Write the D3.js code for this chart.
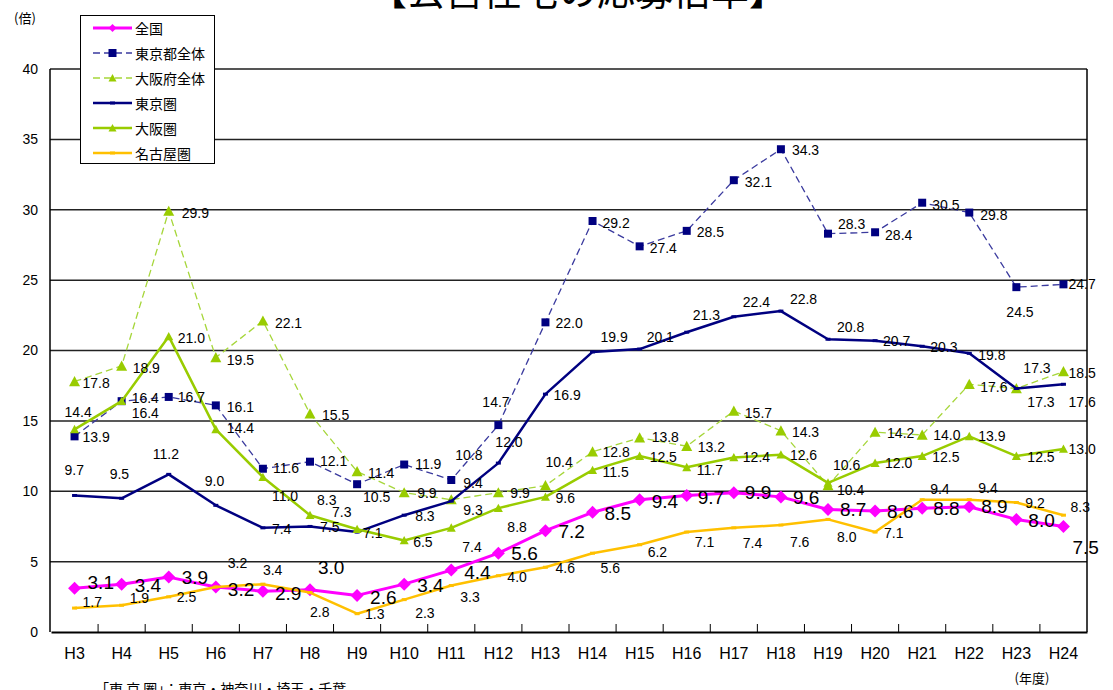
<!DOCTYPE html>
<html>
<head>
<meta charset="utf-8">
<script src="https://cdn.jsdelivr.net/npm/d3@7"></script>
<style>
  body { margin: 0; background: #fff; }
  svg { display: block; }
  text { font-family: "Liberation Sans", Arial, sans-serif; }
  .jp { font-family: "Noto Sans CJK JP", sans-serif; }
</style>
</head>
<body>
<svg id="chart" width="1113" height="690"></svg>
<script>
// ---------- data ----------
const categories = ["H3","H4","H5","H6","H7","H8","H9","H10","H11","H12","H13","H14","H15","H16","H17","H18","H19","H20","H21","H22","H23","H24"];
const yTicks = [0,5,10,15,20,25,30,35,40];
const seriesNames = ["全国","東京都全体","大阪府全体","東京圏","大阪圏","名古屋圏"];
const zenkoku   = [3.1,3.4,3.9,3.2,2.9,3.0,2.6,3.4,4.4,5.6,7.2,8.5,9.4,9.7,9.9,9.6,8.7,8.6,8.8,8.9,8.0,7.5];
const tokyoto   = [13.9,16.4,16.7,16.1,11.6,12.1,10.5,11.9,10.8,14.7,22.0,29.2,27.4,28.5,32.1,34.3,28.3,28.4,30.5,29.8,24.5,24.7];
const osakafu   = [17.8,18.9,29.9,19.5,22.1,15.5,11.4,9.9,9.4,9.9,10.4,12.8,13.8,13.2,15.7,14.3,10.4,14.2,14.0,17.6,17.3,18.5];
const tokyoken  = [9.7,9.5,11.2,9.0,7.4,7.5,7.1,8.3,9.3,12.0,16.9,19.9,20.1,21.3,22.4,22.8,20.8,20.7,20.3,19.8,17.3,17.6];
const osakaken  = [14.4,16.4,21.0,14.4,11.0,8.3,7.3,6.5,7.4,8.8,9.6,11.5,12.5,11.7,12.4,12.6,10.6,12.0,12.5,13.9,12.5,13.0];
const nagoyaken = [1.7,1.9,2.5,3.2,3.4,2.8,1.3,2.3,3.3,4.0,4.6,5.6,6.2,7.1,7.4,7.6,8.0,7.1,9.4,9.4,9.2,8.3];

// ---------- label placement (offsets from each point, px) ----------
const offZenkoku = [[13,-6],[13,1],[13,0],[12,3],[12,2],[8,-22],[13,2],[13,1],[13,2],[13,0],[13,1],[12,1],[12,2],[11,2],[11,0],[12,1],[12,0],[12,1],[11,0],[12,0],[12,1],[9,21]];
const offTokyoto = [[8,1],[10,-3],[9,0],[11,2],[10,-1],[10,-1],[6,13],[11,-1],[4,-25],[-16,-23],[10,1],[10,2],[10,2],[10,1],[11,2],[11,1],[10,-10],[10,3],[10,2],[11,2],[-10,25],[5,0]];
const offOsakafu = [[8,2],[11,2],[13,2],[11,2],[12,2],[12,1],[11,1],[13,0],[12,-17],[12,0],[0,-24],[10,0],[12,-1],[11,1],[11,2],[11,1],[9,4],[12,1],[11,0],[11,3],[7,-21],[5,1]];
const offTokyoken = [[-10,-25],[-12,-24],[-16,-20],[-11,-24],[9,1],[10,1],[6,1],[11,1],[12,9],[-3,-21],[8,1],[8,-15],[7,-12],[6,-17],[9,-15],[9,-12],[9,-12],[8,0],[8,1],[9,2],[11,13],[5,18]];
const offOsakaken = [[-10,-17],[10,12],[9,2],[11,-1],[9,19],[7,-15],[-25,-17],[9,1],[11,19],[9,19],[10,1],[10,2],[10,1],[10,3],[9,0],[9,0],[5,-18],[10,0],[10,1],[9,0],[11,1],[5,0]];
const offNagoya = [[8,-6],[8,-7],[8,0],[12,-24],[0,-14],[0,19],[8,0],[11,13],[9,11],[9,1],[10,1],[8,15],[8,7],[8,10],[9,15],[9,17],[9,18],[9,1],[8,-11],[9,-12],[9,0],[7,-8]];

// ---------- series styles ----------
const series = [
  {name: seriesNames[0], values: zenkoku,   off: offZenkoku,  color:"#FF00FF", mcolor:"#FF00FF", width:3,   dash:null,  marker:"diamond", msize:13, fsize:19},
  {name: seriesNames[1], values: tokyoto,   off: offTokyoto,  color:"#3A3A9E", mcolor:"#000080", width:1.3, dash:"7,4", marker:"square",  msize:8,  fsize:14},
  {name: seriesNames[2], values: osakafu,   off: offOsakafu,  color:"#A6D63A", mcolor:"#99CC00", width:1.3, dash:"7,4", marker:"triangle",msize:11, fsize:14},
  {name: seriesNames[3], values: tokyoken,  off: offTokyoken, color:"#000080", mcolor:"#000080", width:2.5, dash:null,  marker:"small",   msize:5,  fsize:14},
  {name: seriesNames[4], values: osakaken,  off: offOsakaken, color:"#99CC00", mcolor:"#99CC00", width:2.5, dash:null,  marker:"triangle",msize:9,  fsize:14},
  {name: seriesNames[5], values: nagoyaken, off: offNagoya,   color:"#FFC000", mcolor:"#FFC000", width:2.5, dash:null,  marker:"small",   msize:5,  fsize:14}
];

const svg = d3.select("#chart");
const L = 51, R = 1087, T = 69, B = 632;
const x = d3.scaleBand().domain(categories).range([L, R]);
const cx = c => x(c) + x.bandwidth() / 2;
const y = d3.scaleLinear().domain([0, 40]).range([B, T]);

function markerPath(type, s) {
  const h = s / 2;
  if (type === "diamond") return `M0,${-h}L${h},0L0,${h}L${-h},0Z`;
  if (type === "square") return `M${-h},${-h}H${h}V${h}H${-h}Z`;
  if (type === "triangle") return `M0,${-h}L${h},${h*0.85}L${-h},${h*0.85}Z`;
  return `M${-h},${-h*0.6}H${h}V${h*0.6}H${-h}Z`;
}

// title (cut off at the top)
svg.append("text").attr("class","jp").attr("x", 578).attr("y", 5)
  .attr("text-anchor","middle").attr("font-size", 38).attr("fill","#000")
  .text("【公営住宅の応募倍率】");

// gridlines
svg.append("g").selectAll("line").data(yTicks.filter(v => v > 0)).join("line")
  .attr("x1", L - 1).attr("x2", R).attr("y1", d => y(d)).attr("y2", d => y(d))
  .attr("stroke", d => d === 40 ? "#555" : "#222").attr("stroke-width", d => d === 40 ? 2 : 1.5);

// y axis
const yAxis = svg.append("g").attr("transform", `translate(${L - 1},0)`)
  .call(d3.axisLeft(y).tickValues(yTicks).tickSize(0).tickPadding(12).tickFormat(d3.format("d")));
yAxis.select(".domain").remove();
yAxis.selectAll("text").attr("font-size", 14).attr("fill", "#000").attr("font-family", "Liberation Sans");
svg.append("line").attr("x1", L - 1).attr("x2", L - 1).attr("y1", T).attr("y2", B).attr("stroke", "#000").attr("stroke-width", 1.5);
svg.append("line").attr("x1", R).attr("x2", R).attr("y1", T).attr("y2", B).attr("stroke", "#000").attr("stroke-width", 1.5);

// x axis
const xAxis = svg.append("g").attr("transform", `translate(0,${B})`)
  .call(d3.axisBottom(x).tickSize(0).tickPadding(16));
xAxis.select(".domain").attr("stroke", "#000").attr("stroke-width", 2);
xAxis.selectAll("text").attr("font-size", 16).attr("fill", "#000").attr("font-family", "Liberation Sans");
svg.append("g").selectAll("line").data(categories.slice(1)).join("line")
  .attr("x1", d => x(d)).attr("x2", d => x(d)).attr("y1", B).attr("y2", B - 8)
  .attr("stroke", "#000").attr("stroke-width", 1);

// axis unit labels
svg.append("text").attr("class","jp").attr("x", 14).attr("y", 23).attr("font-size", 13).text("(倍)");
svg.append("text").attr("class","jp").attr("x", 1032).attr("y", 683).attr("text-anchor","middle").attr("font-size", 13).text("(年度)");
svg.append("text").attr("class","jp").attr("x", 95).attr("y", 694).attr("font-size", 14).text("「東 京 圏」：東京・神奈川・埼玉・千葉");

// lines and markers
const lineGen = d3.line().x((d, i) => cx(categories[i])).y(d => y(d));
series.forEach(s => {
  const g = svg.append("g");
  g.append("path").datum(s.values).attr("d", lineGen).attr("fill", "none")
    .attr("stroke", s.color).attr("stroke-width", s.width)
    .attr("stroke-dasharray", s.dash).attr("stroke-linejoin", "round");
  g.selectAll("path.m").data(s.values).join("path").attr("class", "m")
    .attr("transform", (d, i) => `translate(${cx(categories[i])},${y(d)})`)
    .attr("d", markerPath(s.marker, s.msize)).attr("fill", s.mcolor);
});

// data labels
series.forEach(s => {
  svg.append("g").selectAll("text").data(s.values).join("text")
    .attr("x", (d, i) => cx(categories[i]) + s.off[i][0])
    .attr("y", (d, i) => y(d) + s.off[i][1])
    .attr("dominant-baseline", "central")
    .attr("font-size", s.fsize).attr("fill", "#000")
    .text(d => d3.format(".1f")(d));
});

// legend
const lg = svg.append("g");
lg.append("rect").attr("x", 80.5).attr("y", 15.5).attr("width", 134).attr("height", 148)
  .attr("fill", "#fff").attr("stroke", "#000").attr("stroke-width", 1);
series.forEach((s, i) => {
  const ly = 28 + i * 25;
  lg.append("line").attr("x1", 93).attr("x2", 132).attr("y1", ly).attr("y2", ly)
    .attr("stroke", s.color).attr("stroke-width", s.width).attr("stroke-dasharray", s.dash);
  lg.append("path").attr("transform", `translate(112.5,${ly})`)
    .attr("d", markerPath(s.marker, Math.min(s.msize, 8))).attr("fill", s.mcolor);
  lg.append("text").attr("class","jp").attr("x", 135).attr("y", ly)
    .attr("dominant-baseline", "central").attr("font-size", 14).text(s.name);
});
</script>
</body>
</html>
